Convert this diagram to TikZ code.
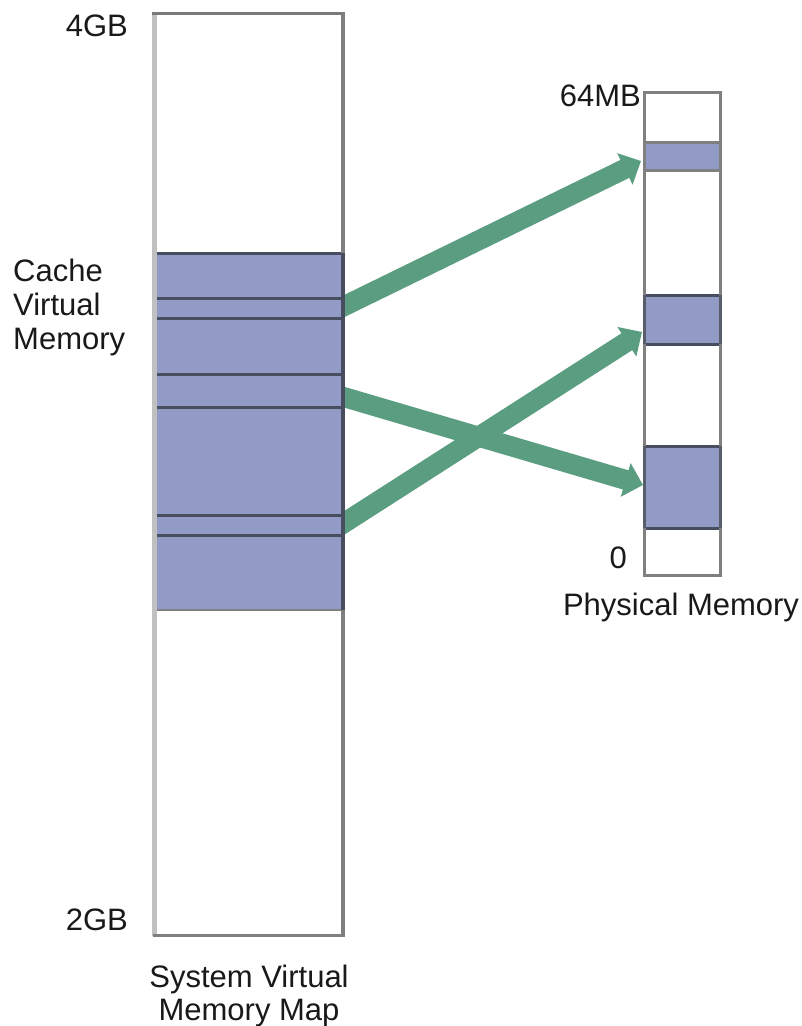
\documentclass[tikz,border=0pt]{standalone}
\usepackage{fontspec}
\setmainfont{Liberation Sans}
\usetikzlibrary{arrows.meta}
\definecolor{cacheblue}{RGB}{146,155,197}
\definecolor{darkline}{RGB}{72,78,96}
\definecolor{boxgray}{RGB}{128,128,128}
\definecolor{lightedge}{RGB}{192,192,192}
\definecolor{mapgreen}{RGB}{90,157,128}
\definecolor{blueedge}{RGB}{118,124,160}
\tikzset{
  lbl/.style={inner sep=0pt, font=\fontsize{31}{33}\selectfont, text=black!90},
  maparrow/.style={draw=mapgreen, line width=20pt, -{Triangle[length=18pt,width=34pt]}},
  divline/.style={draw=darkline, line width=3pt},
}
\begin{document}
\begin{tikzpicture}[x=1pt,y=-1pt]
\useasboundingbox (0,0) rectangle (801,1026);
\fill[white] (0,0) rectangle (801,1026);

% coordinates for arrows
\coordinate (a1s) at (330,313);
\coordinate (a1e) at (641,161);
\coordinate (a2s) at (330,393);
\coordinate (a2e) at (643,485);
\coordinate (a3s) at (330,532);
\coordinate (a3e) at (642,332);

% arrows (under the left box)
\draw[maparrow] (a1s) -- (a1e);
\draw[maparrow] (a2s) -- (a2e);
\draw[maparrow] (a3s) -- (a3e);

% left box: system virtual memory map
\node[draw=none, fill=white, inner sep=0pt, minimum width=190pt, minimum height=922pt, anchor=north west] (svm) at (153,13) {};
\fill[cacheblue] (155,253) rectangle (342,610);
\draw[blueedge, line width=2pt] (156,253) -- (156,610);
\foreach \yy in {253,298,318,374,407,515,535}{
  \draw[divline] (155,\yy) -- (343,\yy);
}
\draw[boxgray, line width=2.5pt] (155,610) -- (343,610);
\draw[lightedge, line width=5pt] (154,13) -- (154,936);
\draw[boxgray!95!black, line width=3pt] (152,13.5) -- (345,13.5);
\draw[boxgray, line width=3.5pt] (343,13) -- (343,936);
\draw[darkline, line width=3.5pt] (343,253) -- (343,610);
\draw[boxgray, line width=3pt] (153,935) -- (345,935);

% right box: physical memory
\node[draw=none, fill=white, inner sep=0pt, minimum width=77pt, minimum height=483pt, anchor=north west] (phys) at (644,92) {};
\fill[cacheblue] (644,142) rectangle (720,170);
\fill[cacheblue] (644,295) rectangle (720,344);
\fill[cacheblue] (644,446) rectangle (720,528);
\draw[boxgray, line width=3pt] (644,142) -- (721,142);
\draw[boxgray, line width=3pt] (644,170) -- (721,170);
\foreach \yy in {295,344,446,528}{
  \draw[divline] (644,\yy) -- (721,\yy);
}
\draw[boxgray, line width=3pt] (644,92) rectangle (720,575);
\draw[darkline!70!boxgray, line width=3pt] (644,295) -- (644,344);
\draw[darkline!70!boxgray, line width=3pt] (644,446) -- (644,528);
\draw[darkline!70!boxgray, line width=3pt] (720,295) -- (720,344);
\draw[darkline!70!boxgray, line width=3pt] (720,446) -- (720,528);

% labels
\node[lbl, anchor=base east] (l4gb) at (128,36) {4GB};
\node[lbl, anchor=base east] (l2gb) at (128,930) {2GB};
\node[lbl, anchor=base east] (l64) at (641,106) {64MB};
\node[lbl, anchor=base east] (l0) at (627,568) {0};
\node[lbl, anchor=base] (lphys) at (681,615) {Physical Memory};
\node[lbl, anchor=north west, align=left, font=\fontsize{31}{34}\selectfont] (lcache) at (13,259) {Cache\\Virtual\\Memory};
\node[lbl, anchor=north, align=center] (lsys) at (249,965) {System Virtual\\Memory Map};
\end{tikzpicture}
\end{document}
